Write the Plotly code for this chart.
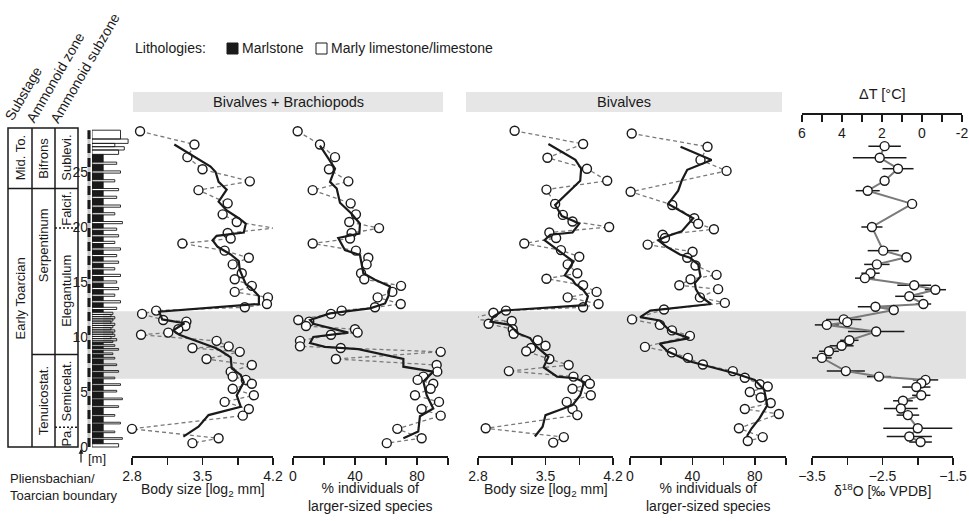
import plotly.graph_objects as go

W, H = 969, 521
FONT = "Liberation Sans, Arial, sans-serif"
INK = "#1a1a1a"

def fx(p):
    return p / W

def fy(p):
    return 1 - p / H

# ---------------- data ----------------
# Bivalves + Brachiopods (height in m)
bb_height = [28.7, 27.5, 26.35, 25.25, 24.15, 23.35, 22.15, 21.15, 20.45, 19.9,
             19.45, 18.95, 18.5, 17.85, 17.2, 16.6, 15.8, 15.25, 14.65, 14.1,
             13.6, 13.0, 12.7, 12.4, 12.1, 11.55, 11.4, 11.0, 10.7, 10.4,
             10.2, 9.65, 9.15, 9.0, 8.65, 8.0, 7.45, 6.85, 6.4, 6.1,
             5.75, 5.3, 4.7, 4.1, 3.45, 2.85, 1.65, 0.8, 0.35]
bb_size = [2.88, 3.42, 3.35, 3.50, 3.97, 3.46, 3.75, 3.70, 3.84, 4.21,
           3.75, 3.78, 3.30, 3.72, 3.96, 3.80, 3.89, 3.82, 3.99, 3.82,
           4.15, 4.14, 3.92, 3.04, 2.90, 3.11, 3.34, 3.33, 3.26, 3.16,
           2.89, 3.64, 3.76, 3.40, 3.87, 3.54, 3.99, 3.78, 3.80, 3.93,
           3.99, 3.80, 4.01, 3.72, 3.96, 3.90, 2.80, 3.66, 3.40]
bb_pct = [3.0, 17.4, 27.1, 23.2, 35.7, 12.7, 37.2, 40.6, 36.3, 55.5,
          37.8, 36.8, 12.7, 40.6, 48.6, 47.5, 43.9, 46.0, 69.7, 64.1,
          54.6, 69.5, 52.9, 31.4, 24.5, 3.4, 10.5, 8.4, 40.0, 41.7,
          24.5, 4.5, 4.5, 30.8, 95.3, 27.7, 92.7, 93.1, 84.1, 80.4,
          90.5, 88.8, 78.7, 94.2, 83.0, 95.3, 67.3, 83.0, 60.5]

bb_size_trend_h = [27.5, 25.5, 25.0, 24.1, 23.4, 22.3, 21.5, 20.8, 20.3, 19.5, 19.2, 18.8,
                   18.2, 17.5, 16.9, 16.1, 14.8, 14.5, 13.7, 13.0, 12.3, 11.6, 11.25, 10.6,
                   10.2, 9.0, 8.75, 8.15, 7.15, 6.55, 5.9, 4.7, 3.65, 2.9, 1.85, 0.95]
bb_size_trend = [3.22, 3.58, 3.63, 3.66, 3.74, 3.66, 3.74, 3.86, 3.93, 3.91, 3.64, 3.60,
                 3.65, 3.78, 3.86, 3.87, 3.93, 3.98, 4.06, 4.06, 3.07, 3.10, 3.32, 3.21,
                 3.27, 3.63, 3.68, 3.78, 3.79, 3.88, 3.91, 3.84, 3.88, 3.56, 3.46, 3.31]

bb_pct_trend_h = [27.4, 25.3, 24.1, 23.5, 22.2, 21.2, 20.3, 19.4, 19.0, 17.9, 17.45, 15.8,
                  15.2, 14.6, 13.7, 13.05, 12.6, 12.15, 11.55, 11.2, 10.4, 10.0, 9.45, 9.1,
                  8.9, 8.0, 7.3, 6.85, 5.95, 4.7, 3.5, 2.8, 1.4, 0.8]
bb_pct_trend = [17.4, 27.1, 23.9, 28.2, 30.3, 37.8, 43.2, 42.8, 29.2, 33.5, 43.2, 45.4,
                52.9, 62.6, 61.5, 59.4, 49.7, 23.9, 11.0, 13.1, 35.7, 13.1, 11.0, 20.6,
                42.1, 71.2, 71.2, 90.5, 84.1, 86.3, 90.5, 81.9, 80.8, 71.2]

# Bivalves only
biv_height = [28.75, 27.55, 26.3, 25.3, 24.2, 23.4, 22.1, 21.1, 20.5, 20.0,
              19.5, 19.0, 18.5, 17.9, 17.3, 16.6, 15.8, 15.3, 14.7, 14.1,
              13.6, 13.0, 12.7, 12.4, 12.2, 11.6, 11.45, 11.2, 10.7, 10.3,
              9.7, 9.2, 9.0, 8.7, 8.0, 7.45, 6.9, 6.4, 6.1, 5.75,
              5.3, 4.7, 4.1, 3.45, 2.9, 1.7, 0.9, 0.4]
biv_size = [3.18, 3.89, 3.52, 3.93, 4.14, 3.51, 3.60, 3.68, 3.78, 4.16,
            3.54, 3.61, 3.28, 3.66, 3.85, 3.73, 3.83, 3.51, 3.89, 4.03,
            3.73, 4.05, 3.89, 3.09, 2.96, 2.71, 3.15, 2.91, 3.16, 3.17,
            3.42, 3.50, 3.35, 3.30, 3.54, 3.74, 3.12, 3.79, 3.92, 3.96,
            3.78, 3.97, 3.72, 3.78, 3.83, 2.88, 3.69, 3.58]
biv_size_trend_h = [27.55, 26.1, 25.3, 24.2, 22.0, 21.0, 20.6, 20.3, 19.5, 19.3, 18.8, 17.75,
                    16.85, 15.6, 15.2, 14.8, 14.4, 13.7, 12.9, 12.4, 11.85, 11.4, 11.1, 10.35,
                    9.9, 9.1, 8.2, 7.25, 6.4, 6.25, 5.9, 4.7, 3.8, 2.9, 1.85, 0.95]
biv_size_trend = [3.53, 3.81, 3.87, 3.86, 3.60, 3.67, 3.78, 3.85, 3.78, 3.55, 3.49, 3.65,
                  3.79, 3.70, 3.78, 3.81, 3.88, 3.94, 3.91, 3.06, 2.96, 2.93, 3.13, 3.21,
                  3.34, 3.41, 3.53, 3.48, 3.62, 3.81, 3.90, 3.86, 3.78, 3.50, 3.47, 3.39]

biv_pct_height = [28.5, 27.3, 26.1, 25.1, 23.2, 22.0, 20.8, 20.3, 19.8, 19.3,
                  19.0, 18.4, 17.75, 17.2, 16.5, 15.65, 15.25, 14.7, 14.35, 13.6,
                  13.1, 12.5, 11.6, 11.1, 10.6, 10.1, 9.1, 8.6, 8.1, 7.5,
                  6.9, 6.3, 5.7, 5.5, 5.0, 4.5, 4.0, 3.45, 3.0, 1.7, 0.9, 0.55]
biv_pct = [1.1, 49.7, 45.2, 61.9, 0.4, 27.1, 41.2, 43.7, 53.8, 20.9,
           22.4, 11.3, 40.1, 36.7, 42.0, 55.5, 38.8, 31.6, 56.5, 44.8,
           60.8, 21.8, 1.3, 19.2, 26.9, 38.4, 9.6, 26.9, 37.1, 46.7,
           65.9, 73.6, 83.2, 88.3, 76.8, 83.8, 90.2, 73.6, 95.4, 69.8, 85.1, 75.5]
biv_pct_trend_h = [27.3, 26.1, 25.2, 24.2, 23.3, 22.1, 20.8, 19.6, 19.1, 18.8, 18.2, 17.5,
                   17.2, 16.6, 15.5, 14.9, 14.35, 13.7, 13.0, 12.4, 11.8, 11.5, 10.5, 9.9,
                   9.4, 8.7, 7.8, 6.7, 6.1, 5.2, 3.8, 2.6, 1.7, 1.0]
biv_pct_trend = [32.4, 52.3, 36.7, 33.1, 30.9, 24.5, 40.5, 33.1, 22.4, 18.1, 23.5, 32.0,
                 38.4, 43.7, 45.2, 41.6, 42.2, 45.0, 52.0, 13.0, 6.5, 19.0, 26.0, 38.0,
                 19.0, 24.0, 38.0, 67.0, 80.0, 86.0, 88.0, 83.0, 78.0, 75.0]

# Oxygen isotopes
d18o_height = [27.35, 26.3, 25.3, 24.2, 23.3, 22.1, 20.0, 17.85, 17.25, 16.6,
               15.8, 15.35, 14.7, 14.3, 13.7, 13.0, 12.75, 12.45, 11.6, 11.35,
               11.1, 10.5, 9.7, 9.2, 8.7, 8.1, 6.9, 6.4, 6.1, 5.8,
               5.45, 4.7, 4.2, 3.5, 2.9, 1.7, 0.95, 0.45]
d18o = [-2.47, -2.54, -2.28, -2.47, -2.71, -2.08, -2.65, -2.49, -2.16, -2.58,
        -2.67, -2.75, -2.05, -1.75, -2.12, -1.92, -2.60, -2.34, -3.05, -3.00,
        -3.29, -2.59, -2.97, -3.08, -3.26, -3.36, -3.02, -2.55, -1.89, -1.95,
        -2.02, -1.95, -2.21, -2.24, -2.14, -2.00, -2.12, -1.96]
d18o_err = [0.23, 0.38, 0.22, 0.0, 0.17, 0.0, 0.15, 0.22, 0.0, 0.18,
            0.13, 0.14, 0.24, 0.15, 0.20, 0.11, 0.25, 0.0, 0.25, 0.0,
            0.17, 0.40, 0.13, 0.17, 0.14, 0.14, 0.27, 0.17, 0.18, 0.0,
            0.20, 0.13, 0.14, 0.24, 0.16, 0.49, 0.32, 0.16]

# Lithology log: bed tops (m), type (M = marlstone, L = limestone), relative bed length
bed_top = [0.3, 0.7, 0.85, 1.3, 1.45, 2.1, 2.25, 2.8, 2.95, 3.6, 3.75, 4.3, 4.45, 5.0, 5.15,
           5.6, 5.75, 6.2, 6.35, 6.8, 6.95, 7.4, 7.55, 8.0, 8.15, 8.4, 8.55, 8.8, 8.95, 9.15,
           9.3, 9.5, 9.65, 9.85, 10.05, 10.25, 10.45, 10.65, 10.85, 11.05, 11.25, 11.45, 11.65,
           11.85, 12.05, 12.25, 12.5, 12.7, 13.1, 13.3, 13.7, 13.9, 14.3, 14.5, 14.9, 15.1,
           15.5, 15.7, 16.1, 16.3, 16.7, 16.9, 17.3, 17.5, 17.9, 18.1, 18.5, 18.7, 19.1, 19.3,
           19.7, 19.9, 20.3, 20.5, 21.1, 21.3, 21.8, 22.0, 22.6, 22.8, 23.3, 23.5, 24.1, 24.3,
           24.9, 25.1, 25.7, 25.9, 26.6, 27.0, 27.3, 27.6, 28.0, 28.8]
bed_type = ["L", "M", "L", "M", "L", "M", "L", "M", "L", "M", "L", "M", "L", "M", "L",
            "M", "L", "M", "L", "M", "L", "M", "L", "M", "L", "M", "L", "M", "L", "M",
            "L", "M", "L", "L", "L", "L", "L", "L", "L", "L", "L", "L", "L",
            "L", "L", "L", "M", "L", "M", "L", "M", "L", "M", "L", "M", "L",
            "M", "L", "M", "L", "M", "L", "M", "L", "M", "L", "M", "L", "M", "L",
            "M", "L", "M", "L", "M", "L", "M", "L", "M", "L", "M", "L", "M", "L",
            "M", "L", "M", "L", "M", "L", "L", "L", "L", "L"]
bed_len = [0.7, 0.3, 0.8, 0.3, 0.6, 0.3, 0.75, 0.3, 0.6, 0.3, 0.7, 0.3, 0.8, 0.3, 0.65,
           0.3, 0.75, 0.3, 0.6, 0.3, 0.7, 0.3, 0.65, 0.3, 0.6, 0.3, 0.55, 0.3, 0.7, 0.3,
           0.6, 0.3, 0.55, 0.65, 0.5, 0.6, 0.55, 0.6, 0.5, 0.55, 0.6, 0.5, 0.55,
           0.6, 0.5, 0.55, 0.3, 0.65, 0.3, 0.75, 0.3, 0.6, 0.3, 0.7, 0.3, 0.65,
           0.3, 0.75, 0.3, 0.6, 0.3, 0.7, 0.3, 0.65, 0.3, 0.75, 0.3, 0.6, 0.3, 0.7,
           0.3, 0.65, 0.3, 0.8, 0.3, 0.6, 0.3, 0.75, 0.3, 0.65, 0.3, 0.7, 0.3, 0.6,
           0.3, 0.75, 0.3, 0.65, 0.3, 0.7, 0.85, 0.6, 0.95, 0.75]

toae_interval = [6.2, 12.35]
height_ticks = [0, 5, 10, 15, 20, 25]
section_top = 29.0
substage_bounds = [23.5]
zone_bound_lower = 8.4
subzone_dotted = [19.9, 1.8]

# ---------------- figure ----------------
fig = go.Figure()

# lithology bars
bed_bottom = [0.0] + bed_top[:-1]
for kind, fill, lw in [("M", INK, 0.5), ("L", "rgba(255,255,255,0)", 0.9)]:
    idx = [i for i, t in enumerate(bed_type) if t == kind]
    fig.add_trace(go.Bar(
        x=[bed_len[i] for i in idx],
        y=[(bed_bottom[i] + bed_top[i]) / 2 for i in idx],
        width=[bed_top[i] - bed_bottom[i] for i in idx],
        base=0, orientation="h",
        marker=dict(color=fill, line=dict(color=INK, width=lw)),
        xaxis="x7", yaxis="y", showlegend=False, hoverinfo="skip"))

marker_style = dict(symbol="circle", size=9, color="white", line=dict(color=INK, width=1.4))

def add_panel(xa, h, v, th, tv):
    fig.add_trace(go.Scatter(
        x=v, y=h, mode="lines+markers", xaxis=xa, yaxis="y",
        line=dict(color="#7a7a7a", width=1.3, dash="4px,3px"),
        marker=marker_style, cliponaxis=False, showlegend=False, hoverinfo="skip"))
    fig.add_trace(go.Scatter(
        x=tv, y=th, mode="lines", xaxis=xa, yaxis="y",
        line=dict(color=INK, width=2.2), cliponaxis=False, showlegend=False, hoverinfo="skip"))

add_panel("x", bb_height, bb_size, bb_size_trend_h, bb_size_trend)
add_panel("x2", bb_height, bb_pct, bb_pct_trend_h, bb_pct_trend)
add_panel("x3", biv_height, biv_size, biv_size_trend_h, biv_size_trend)
add_panel("x4", biv_pct_height, biv_pct, biv_pct_trend_h, biv_pct_trend)

fig.add_trace(go.Scatter(
    x=d18o, y=d18o_height, mode="lines+markers", xaxis="x5", yaxis="y",
    line=dict(color="#7a7a7a", width=2),
    marker=marker_style,
    error_x=dict(type="data", array=d18o_err, visible=True, color=INK, thickness=1.5, width=0),
    cliponaxis=False, showlegend=False, hoverinfo="skip"))

# companion temperature axis
fig.add_trace(go.Scatter(x=[6, -2], y=[None, None], xaxis="x6", yaxis="y", mode="markers",
                         marker=dict(opacity=0), showlegend=False, hoverinfo="skip"))

def xax(d0, d1, rng, tv, tt, minor_tv):
    return dict(domain=[fx(d0), fx(d1)], range=rng, anchor="y", showgrid=False, zeroline=False,
                automargin=False,
                showline=True, linecolor=INK, linewidth=1.5, ticks="outside", ticklen=7,
                tickwidth=1.5, tickcolor=INK, tickvals=tv, ticktext=tt,
                minor=dict(tickvals=minor_tv, ticks="outside", ticklen=7, tickwidth=1.5,
                           tickcolor=INK, showgrid=False),
                tickfont=dict(family=FONT, size=14, color=INK), fixedrange=True)

size_tv = [2.8, 3.5, 4.2]
size_tt = ["2.8", "3.5", "4.2"]
size_minor = [3.15, 3.85]
pct_tv = [0, 40, 80]
pct_tt = ["0", "40", "80"]
pct_minor = [20, 60, 100]
o_tv = [-3.5, -2.5, -1.5]
o_tt = ["\u22123.5", "\u22122.5", "\u22121.5"]
o_minor = [-3.0, -2.0]
dt_tv = [6, 4, 2, 0, -2]
dt_tt = ["6", "4", "2", "0", "-2"]
dt_minor = [5, 3, 1, -1]

Y_BOTTOM_PX, Y_TOP_PX, ZERO_PX, PPM = 456, 117, 447, 11.0

fig.update_layout(
    width=W, height=H, margin=dict(l=0, r=0, t=0, b=0, pad=0, autoexpand=False), autosize=False,
    paper_bgcolor="white", plot_bgcolor="rgba(0,0,0,0)", barmode="overlay", showlegend=False,
    font=dict(family=FONT, color=INK, size=14),
    xaxis=xax(132, 273, [2.8, 4.2], size_tv, size_tt, size_minor),
    xaxis2=xax(293, 448, [0, 100], pct_tv, pct_tt, pct_minor),
    xaxis3=xax(478, 613, [2.8, 4.2], size_tv, size_tt, size_minor),
    xaxis4=xax(630, 786, [0, 100], pct_tv, pct_tt, pct_minor),
    xaxis5=xax(812, 953, [-3.5, -1.5], o_tv, o_tt, o_minor),
    xaxis6=dict(domain=[fx(802), fx(962)], range=[6, -2], anchor="free", position=fy(113),
                side="bottom", showgrid=False, zeroline=False, showline=True, linecolor=INK,
                automargin=False,
                linewidth=1.5, ticks="outside", ticklen=7, tickwidth=1.5, tickcolor=INK,
                tickvals=dt_tv, ticktext=dt_tt,
                minor=dict(tickvals=dt_minor, ticks="outside", ticklen=7, tickwidth=1.5,
                           tickcolor=INK, showgrid=False),
                tickfont=dict(family=FONT, size=14, color=INK),
                fixedrange=True),
    xaxis7=dict(domain=[fx(92), fx(130)], range=[0, 1], anchor="y", visible=False,
                automargin=False, fixedrange=True),
    yaxis=dict(domain=[fy(Y_BOTTOM_PX), fy(Y_TOP_PX)],
               range=[(ZERO_PX - Y_BOTTOM_PX) / PPM, (ZERO_PX - Y_TOP_PX) / PPM],
               anchor="free", position=fx(88), showgrid=False, zeroline=False, showline=False,
               automargin=False,
               ticks="", tickvals=height_ticks, tickfont=dict(family=FONT, size=14, color=INK),
               fixedrange=True),
)

shapes = []
# OAE band
shapes.append(dict(type="rect", xref="paper", yref="y", x0=fx(103), x1=fx(966),
                   y0=toae_interval[0], y1=toae_interval[1], fillcolor="#e2e2e2",
                   line=dict(width=0), layer="below"))
# header strips
for a, b in [(133, 443), (466, 782)]:
    shapes.append(dict(type="rect", xref="paper", yref="paper", x0=fx(a), x1=fx(b),
                       y0=fy(112), y1=fy(92), fillcolor="#e6e6e6", line=dict(width=0), layer="below"))
# scale bar of the log
shapes.append(dict(type="line", xref="paper", yref="y", x0=fx(89), x1=fx(89), y0=0, y1=section_top - 0.2,
                   line=dict(color="#c4c4c4", width=3)))
shapes.append(dict(type="line", xref="paper", yref="y", x0=fx(89), x1=fx(89), y0=0, y1=section_top - 0.2,
                   line=dict(color=INK, width=3, dash="9px,5px")))
# stratigraphic box
box = dict(color=INK, width=1.5)
shapes.append(dict(type="rect", xref="paper", yref="y", x0=fx(8), x1=fx(78), y0=0, y1=section_top, line=box))
for xv in (32, 55):
    shapes.append(dict(type="line", xref="paper", yref="y", x0=fx(xv), x1=fx(xv), y0=0, y1=section_top, line=box))
for yv in substage_bounds:
    shapes.append(dict(type="line", xref="paper", yref="y", x0=fx(8), x1=fx(78), y0=yv, y1=yv, line=box))
shapes.append(dict(type="line", xref="paper", yref="y", x0=fx(32), x1=fx(78),
                   y0=zone_bound_lower, y1=zone_bound_lower, line=box))
for yv in subzone_dotted:
    shapes.append(dict(type="line", xref="paper", yref="y", x0=fx(55), x1=fx(78), y0=yv, y1=yv,
                       line=dict(color=INK, width=1.5, dash="2px,2px")))
# legend swatches
shapes.append(dict(type="rect", xref="paper", yref="paper", x0=fx(227), x1=fx(238), y0=fy(54), y1=fy(43),
                   fillcolor=INK, line=dict(color=INK, width=1)))
shapes.append(dict(type="rect", xref="paper", yref="paper", x0=fx(316), x1=fx(327), y0=fy(54), y1=fy(43),
                   fillcolor="white", line=dict(color=INK, width=1)))
fig.update_layout(shapes=shapes)

ann = []
def text(x, y, s, size=14, angle=0, xanchor="center", yanchor="middle", yref="paper", align="center"):
    ann.append(dict(x=fx(x), y=(fy(y) if yref == "paper" else y), xref="paper", yref=yref, text=s,
                    showarrow=False, textangle=angle, xanchor=xanchor, yanchor=yanchor, align=align,
                    font=dict(family=FONT, size=size, color=INK)))

text(133, 48, "Lithologies:", xanchor="left")
text(240, 48, "Marlstone", xanchor="left")
text(329, 48, "Marly limestone/limestone", xanchor="left")
text(288, 102, "Bivalves + Brachiopods", size=14.5)
text(624, 102, "Bivalves", size=14.5)
text(882, 94, "\u0394T [\u00b0C]", size=14.5)

text(23, 94, "Substage", angle=-60)
text(55, 78, "Ammonoid zone", angle=-60)
text(85, 68, "Ammonoid subzone", angle=-60)

for x, m, s in [(20, 26.25, "Mid. To."), (20, 13.5, "Early Toarcian"),
                (43.5, 26.25, "Bifrons"), (43.5, 18.3, "Serpentinum"), (43.5, 4.2, "Tenuicostat."),
                (66.5, 26.25, "Sublevi."), (66.5, 21.7, "Falcif."), (66.5, 14.15, "Elegantulum"),
                (66.5, 5.1, "Semicelat."), (66.5, 0.9, "Pa.")]:
    text(x, m, s, size=13, angle=-90, yref="y")

text(97, 458, "[m]", size=13)
text(8, 487, "Pliensbachian/<br>Toarcian boundary", size=13, xanchor="left", align="left")
text(203, 490, "Body size [log<sub>2</sub> mm]")
text(370, 497, "% individuals of<br>larger-sized species")
text(546, 490, "Body size [log<sub>2</sub> mm]")
text(708, 497, "% individuals of<br>larger-sized species")
text(882, 490, "\u03b4<sup>18</sup>O [\u2030 VPDB]")

ann.append(dict(x=fx(81), y=fy(449), xref="paper", yref="paper", text="", showarrow=True,
                ax=0, ay=15, arrowhead=2, arrowsize=0.8, arrowwidth=1.2, arrowcolor=INK))
fig.update_layout(annotations=ann)

fig.write_html("out.html",
               config={"displayModeBar": False, "staticPlot": True},
               post_script="document.body.style.margin='0';document.body.style.padding='0';"
                           "document.documentElement.style.overflow='hidden';")
